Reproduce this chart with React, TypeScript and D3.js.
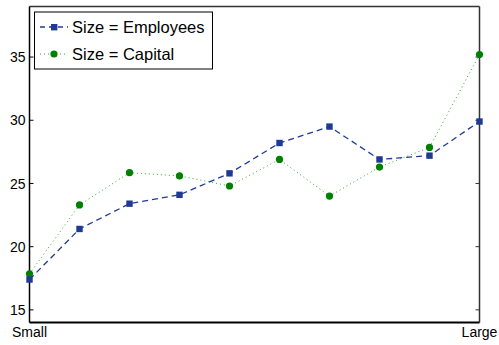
import React from "react";
import * as d3 from "d3";

// Firm size buckets along the x axis (only the ends are labelled)
const sizeSteps = [1, 2, 3, 4, 5, 6, 7, 8, 9, 10];
const xTickLabels = ["Small", "Large"];
const yTicks = [15, 20, 25, 30, 35];

// Series values per size bucket
const employees = [17.4, 21.4, 23.4, 24.1, 25.8, 28.2, 29.5, 26.9, 27.2, 29.9];
const capital = [17.85, 23.3, 25.85, 25.6, 24.8, 26.9, 24.0, 26.3, 27.85, 35.2];

const seriesNames = ["Size = Employees", "Size = Capital"];

const W = 499;
const H = 345;
const m = { left: 29.5, right: 19.5, top: 6.5, bottom: 22.5 };

export default function App() {
  const x = d3.scaleLinear().domain([1, 10]).range([m.left, W - m.right]);
  const y = d3.scaleLinear().domain([14, 39]).range([H - m.bottom, m.top]);

  const line = d3
    .line<number>()
    .x((_, i) => x(sizeSteps[i]))
    .y((d) => y(d));

  const blue = "#1f3a93";
  const green = "#008000";
  const font = "Liberation Sans, Arial, Helvetica, sans-serif";

  return (
    <svg
      width={W}
      height={H}
      style={{ position: "absolute", left: 0, top: 0, background: "#fff" }}
      fontFamily={font}
    >
      {/* frame: mirrored box with inward ticks */}
      <line x1={m.left} x2={W - m.right} y1={m.top} y2={m.top} stroke="#333" strokeWidth={1.5} />
      <line x1={W - m.right} x2={W - m.right} y1={m.top} y2={H - m.bottom} stroke="#333" strokeWidth={1.5} />
      {yTicks.map((t) => (
        <g key={t}>
          <line x1={m.left} x2={m.left + 4} y1={y(t)} y2={y(t)} stroke="#000" strokeWidth={1} />
          <line x1={W - m.right} x2={W - m.right - 4} y1={y(t)} y2={y(t)} stroke="#333" strokeWidth={1} />
          <text x={m.left - 4} y={y(t)} dy="0.36em" textAnchor="end" fontSize={14} fill="#000">
            {t}
          </text>
        </g>
      ))}
      <line x1={m.left} x2={m.left} y1={m.top} y2={H - m.bottom} stroke="#000" strokeWidth={1.5} />
      <line x1={m.left} x2={W - m.right} y1={H - m.bottom} y2={H - m.bottom} stroke="#000" strokeWidth={2} />

      <text x={x(1)} y={H - 8} textAnchor="middle" fontSize={14} fill="#000">
        {xTickLabels[0]}
      </text>
      <text x={x(10)} y={H - 8} textAnchor="middle" fontSize={14} fill="#000">
        {xTickLabels[1]}
      </text>

      {/* Capital series: dotted green with dots */}
      <path d={line(capital) ?? ""} fill="none" stroke="#33a833" strokeWidth={1} strokeDasharray="1,3" />
      {capital.map((v, i) => (
        <circle key={i} cx={x(sizeSteps[i])} cy={y(v)} r={3.6} fill={green} />
      ))}

      {/* Employees series: dashed blue with squares */}
      <path d={line(employees) ?? ""} fill="none" stroke={blue} strokeWidth={1.3} strokeDasharray="6,4" />
      {employees.map((v, i) => (
        <rect key={i} x={x(sizeSteps[i]) - 3.2} y={y(v) - 3.2} width={6.4} height={6.4} fill={blue} />
      ))}

      {/* legend */}
      <rect x={34.5} y={12} width={178} height={57} fill="#fff" stroke="#000" strokeWidth={1} />
      <line x1={40} x2={68} y1={27} y2={27} stroke={blue} strokeWidth={1.3} strokeDasharray="5,4" strokeDashoffset={0} />
      <rect x={51} y={24} width={6.4} height={6.4} fill={blue} />
      <text x={72} y={27} dy="0.36em" fontSize={16.5} fill="#000">
        {seriesNames[0]}
      </text>
      <line x1={40} x2={68} y1={54} y2={54} stroke="#33a833" strokeWidth={1} strokeDasharray="1,3" />
      <circle cx={54} cy={54} r={3.6} fill={green} />
      <text x={72} y={54} dy="0.36em" fontSize={16.5} fill="#000">
        {seriesNames[1]}
      </text>
    </svg>
  );
}
